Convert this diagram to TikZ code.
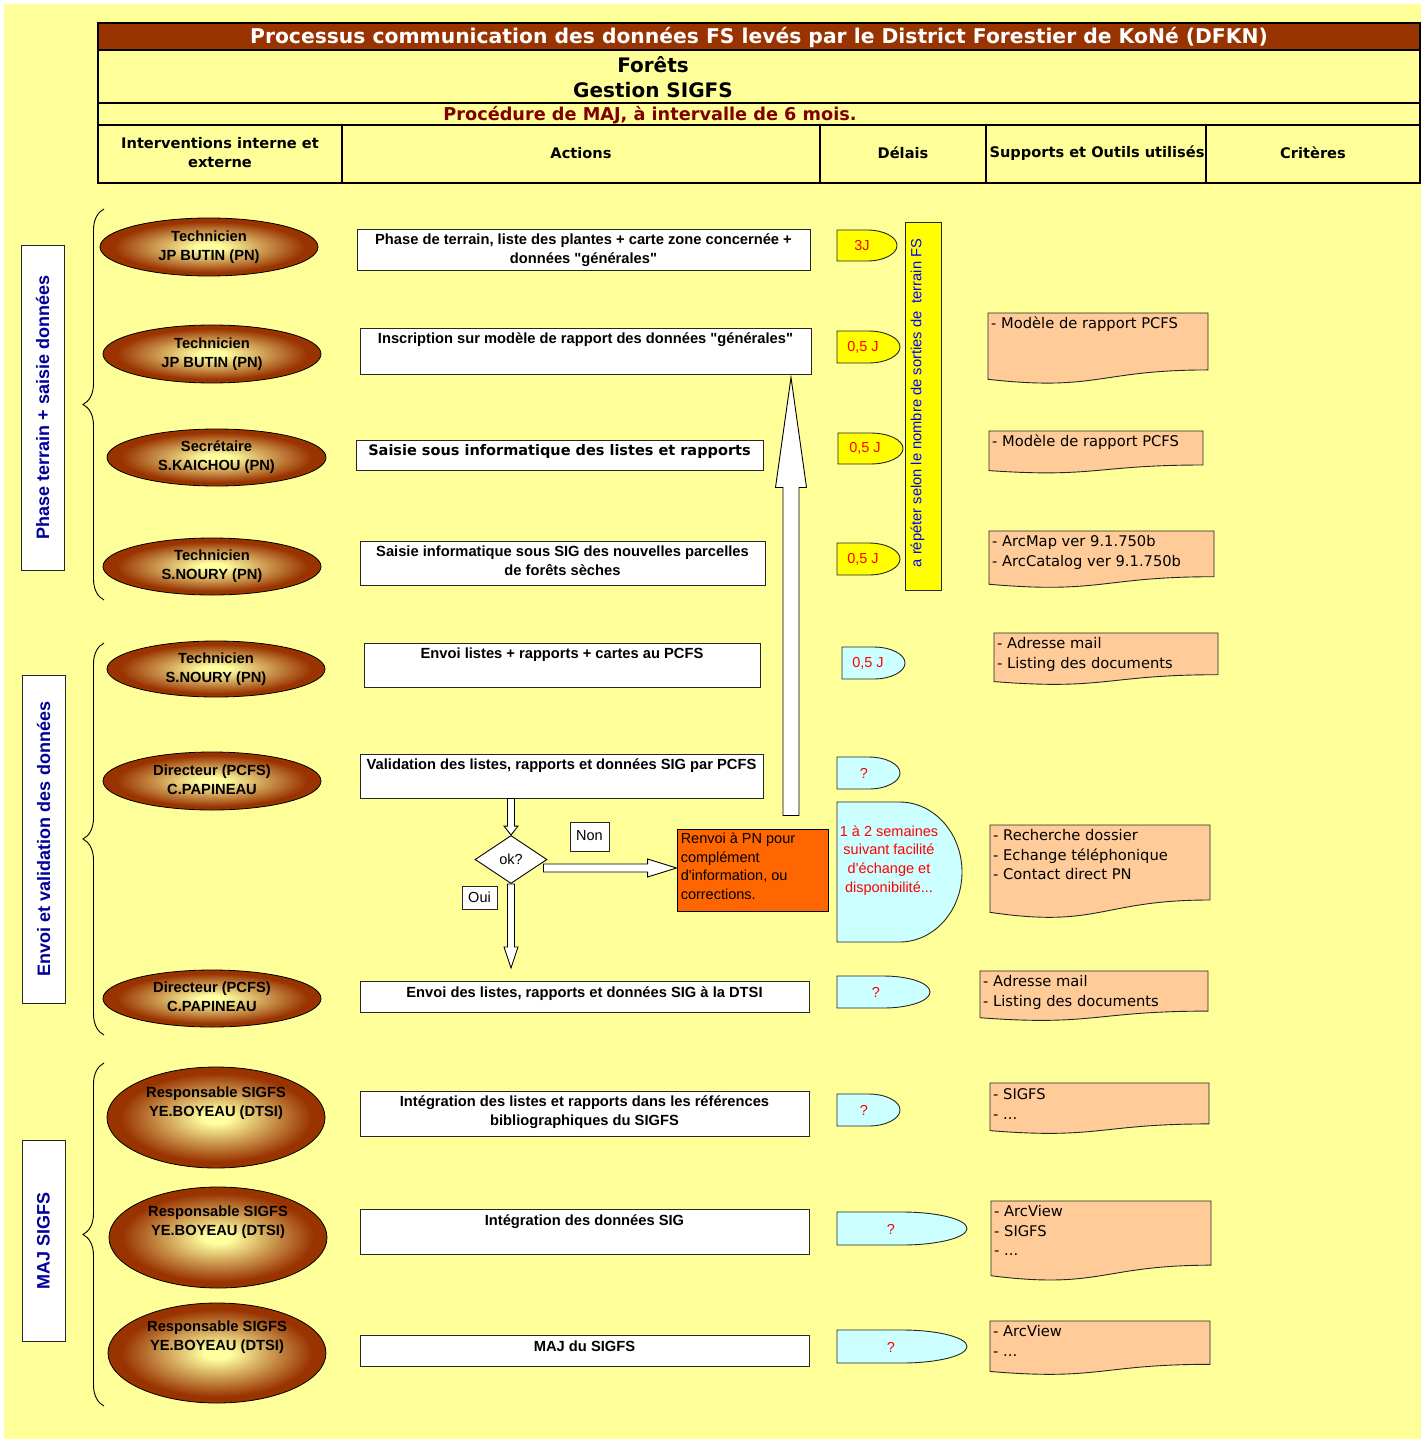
\documentclass[tikz,border=0pt]{standalone}
\usepackage{fontspec}
\setmainfont{Liberation Sans}[Ligatures=TeXOff]
\newfontfamily\verd{DejaVu Sans}[Ligatures=TeXOff]
\usetikzlibrary{shapes.geometric,calc,decorations.pathreplacing}

\definecolor{bgyellow}{HTML}{FFFF99}
\definecolor{titlebrown}{HTML}{993300}
\definecolor{procred}{HTML}{800000}
\definecolor{delayyellow}{HTML}{FFFF00}
\definecolor{delaycyan}{HTML}{CCFFFF}
\definecolor{docpeach}{HTML}{FFCC99}
\definecolor{renvoiorange}{HTML}{FF6600}
\definecolor{sidenavy}{HTML}{000099}
\definecolor{barblue}{HTML}{0000FF}
\definecolor{elllight}{HTML}{FFFFA0}
\definecolor{ellbrown}{HTML}{993300}

\pgfdeclareradialshading{ellshade}{\pgfpoint{0bp}{0bp}}{%
  color(0bp)=(elllight); color(3bp)=(elllight); color(22bp)=(ellbrown); color(50bp)=(ellbrown)}

\newcommand\fs[2]{\fontsize{#1}{#2}\selectfont}
\newcommand\sq{\symbol{39}}
\newcommand\dq{\symbol{34}}

% delay shape: flat left half, half ellipse on the right half
\newcommand\delaybox[6]{%
  \pgfmathsetmacro\dlXm{(#2+#4)/2}%
  \pgfmathsetmacro\dlYm{(#3+#5)/2}%
  \pgfmathsetmacro\dlCx{\dlXm+0.5523*(#4-#2)/2}%
  \pgfmathsetmacro\dlCy{0.5523*(#5-#3)/2}%
  \draw[shapeline, fill=#6] (#2,#3) -- (\dlXm,#3)
    .. controls (\dlCx,#3) and (#4,\dlYm-\dlCy) .. (#4,\dlYm)
    .. controls (#4,\dlYm+\dlCy) and (\dlCx,#5) .. (\dlXm,#5) -- (#2,#5) -- cycle;
  \coordinate (#1) at (#2,\dlYm);
}

% document shape: rectangle with a wavy bottom edge
\newcommand\docbox[5]{%
  \pgfmathsetmacro\dcXm{(#2+#4)/2}%
  \draw[shapeline, fill=docpeach] (#2,#3) -- (#4,#3) -- (#4,#3+0.802*#5)
    .. controls (\dcXm,#3+0.802*#5) and (\dcXm,#3+1.1075*#5) .. (#2,#3+0.934*#5) -- cycle;
  \coordinate (#1) at (#2,#3);
}

% block arrow from a tail point to a tip point
\newcommand\blockarrow[5]{%
  \coordinate (bah) at ($(#2)!#5!(#1)$);
  \draw[blockarr] ($(#1)!#3!90:(#2)$) -- ($(bah)!#3!-90:(#1)$) -- ($(bah)!#4!-90:(#1)$)
    -- (#2) -- ($(bah)!#4!90:(#1)$) -- ($(bah)!#3!90:(#1)$) -- ($(#1)!#3!-90:(#2)$) -- cycle;
}

\tikzset{
  shapeline/.style={draw=black!85, line width=0.9pt},
  blockarr/.style={draw=black, line width=0.9pt, fill=white},
  hdrline/.style={line width=2.6pt, draw=black},
  ell/.style={ellipse, draw=black, line width=0.8pt, shade, shading=ellshade,
    minimum width=218pt, minimum height=58pt, inner sep=0pt, align=center,
    font=\bfseries\fs{14.7}{19}},
  bigell/.style={ell, minimum height=101pt},
  actbox/.style={rectangle, draw=black!85, line width=0.9pt, fill=white, inner sep=0pt},
  acttext/.style={anchor=north, inner sep=0pt, align=center, font=\bfseries\fs{14.7}{19}},
  sidebox/.style={rectangle, draw=black!85, line width=0.9pt, fill=white, inner sep=0pt},
  sidetext/.style={rotate=90, inner sep=0pt, text=sidenavy, font=\bfseries\fs{18}{22}},
  delaytext/.style={inner sep=0pt, text=red, font=\fs{14.5}{18.7}},
  doctext/.style={anchor=north west, inner sep=0pt, align=left, font=\verd\fs{14.7}{19.5}},
  hdrtext/.style={inner sep=0pt, align=center, font=\verd\bfseries\fs{14.6}{19}},
  tagbox/.style={rectangle, draw=black!85, line width=0.8pt, fill=white, inner sep=0pt,
    font=\fs{14.5}{17}},
  bracestyle/.style={decorate, decoration={brace, amplitude=21pt, aspect=0.5}, line width=0.9pt},
}

\begin{document}
\begin{tikzpicture}[x=1pt, y=-1pt]
\useasboundingbox (0,0) rectangle (1427,1439);
\fill[white] (0,0) rectangle (1427,1439);
\fill[bgyellow] (4,4) rectangle (1421,1439);

% ---------- header table ----------
\fill[titlebrown] (98,23) rectangle (1420,50);
\draw[hdrline] (98,23) rectangle (1420,183);
\draw[hdrline] (98,50) -- (1420,50);
\draw[hdrline] (98,103) -- (1420,103);
\draw[hdrline] (98,125) -- (1420,125);
\foreach \cx in {342,820,986,1206} \draw[hdrline] (\cx,125) -- (\cx,183);
\node[inner sep=0pt, text=white, font=\verd\bfseries\fs{20.3}{24}] (title) at (759,37) {Processus communication des donn\'ees FS lev\'es par le District Forestier de KoN\'e (DFKN)};
\node[inner sep=0pt, align=center, font=\verd\bfseries\fs{20}{25}] (subtitle) at (653,77) {For\^ets\\Gestion SIGFS};
\node[inner sep=0pt, text=procred, font=\verd\bfseries\fs{17.7}{20}] (proc) at (650,115) {Proc\'edure de MAJ, \`a intervalle de 6 mois.};
\node[hdrtext] (h1) at (220,153) {Interventions interne et\\externe};
\node[hdrtext] (h2) at (581,153) {Actions};
\node[hdrtext] (h3) at (903,153) {D\'elais};
\node[hdrtext] (h4) at (1097,153) {Supports et Outils utilis\'es};
\node[hdrtext] (h5) at (1313,153) {Crit\`eres};

% ---------- phase labels and braces ----------
\node[sidebox, minimum width=43pt, minimum height=325pt] (side1) at (42.5,407.5) {};
\node[sidetext] (side1t) at (side1.center) {Phase terrain + saisie donn\'ees};
\node[sidebox, minimum width=43pt, minimum height=328pt] (side2) at (43.5,839) {};
\node[sidetext] (side2t) at (side2.center) {Envoi et validation des donn\'ees};
\node[sidebox, minimum width=43pt, minimum height=201pt] (side3) at (43.5,1240.5) {};
\node[sidetext] (side3t) at (side3.center) {MAJ SIGFS};

\coordinate (br1a) at (104,600); \coordinate (br1b) at (104,209);
\coordinate (br2a) at (104,1035); \coordinate (br2b) at (104,643);
\coordinate (br3a) at (104,1406); \coordinate (br3b) at (104,1063);
\draw[bracestyle] (br1a) -- (br1b);
\draw[bracestyle] (br2a) -- (br2b);
\draw[bracestyle] (br3a) -- (br3b);

% ---------- actors ----------
\node[ell] (e1) at (209,247) {\strut Technicien\\\strut JP BUTIN (PN)};
\node[ell] (e2) at (212,354) {\strut Technicien\\\strut JP BUTIN (PN)};
\node[ell, minimum width=219pt, minimum height=57pt] (e3) at (216.5,457.5) {\strut Secr\'etaire\\\strut S.KAICHOU (PN)};
\node[ell, minimum height=57pt] (e4) at (212,566.5) {\strut Technicien\\\strut S.NOURY (PN)};
\node[ell, minimum height=56pt] (e5) at (216,669) {\strut Technicien\\\strut S.NOURY (PN)};
\node[ell] (e6) at (212,781) {\strut Directeur (PCFS)\\\strut C.PAPINEAU};
\node[ell, minimum height=57pt] (e7) at (212,998.5) {\strut Directeur (PCFS)\\\strut C.PAPINEAU};
\node[bigell] (e8) at (216,1117.5) {};
\node[bigell] (e9) at (218,1237.5) {};
\node[bigell, minimum height=100pt] (e10) at (217,1353) {};
\node[inner sep=0pt, align=center, font=\bfseries\fs{14.7}{19}] (e8t) at ($(e8.center)+(0,-14)$) {\strut Responsable SIGFS\\\strut YE.BOYEAU (DTSI)};
\node[inner sep=0pt, align=center, font=\bfseries\fs{14.7}{19}] (e9t) at ($(e9.center)+(0,-15)$) {\strut Responsable SIGFS\\\strut YE.BOYEAU (DTSI)};
\node[inner sep=0pt, align=center, font=\bfseries\fs{14.7}{19}] (e10t) at ($(e10.center)+(0,-16)$) {\strut Responsable SIGFS\\\strut YE.BOYEAU (DTSI)};

% ---------- actions ----------
\node[actbox, minimum width=453pt, minimum height=41pt] (a1) at (583.5,249.5) {};
\node[acttext] (a1t) at ($(a1.north)+(0,2.5)$) {\strut Phase de terrain, liste des plantes + carte zone concern\'ee +\\donn\'ees \dq g\'en\'erales\dq};
\node[actbox, minimum width=451pt, minimum height=46pt] (a2) at (585.5,351) {};
\node[acttext] (a2t) at ($(a2.north)+(0,2.5)$) {\strut Inscription sur mod\`ele de rapport des donn\'ees \dq g\'en\'erales\dq};
\node[actbox, minimum width=407pt, minimum height=30pt] (a3) at (559.5,455) {};
\node[acttext, font=\verd\bfseries\fs{14.5}{19}] (a3t) at ($(a3.north)+(0,2)$) {\strut Saisie sous informatique des listes et rapports};
\node[actbox, minimum width=405pt, minimum height=44pt] (a4) at (562.5,563) {};
\node[acttext] (a4t) at ($(a4.north)+(0,2)$) {\strut Saisie informatique sous SIG des nouvelles parcelles\\de for\^ets s\`eches};
\node[actbox, minimum width=396pt, minimum height=44pt] (a5) at (562,665) {};
\node[acttext] (a5t) at ($(a5.north)+(0,2.5)$) {\strut Envoi listes + rapports + cartes au PCFS};
\node[actbox, minimum width=403pt, minimum height=44pt] (a6) at (561.5,776) {};
\node[acttext] (a6t) at ($(a6.north)+(0,2.5)$) {\strut Validation des listes, rapports et donn\'ees SIG par PCFS};
\node[actbox, minimum width=449pt, minimum height=31pt] (a7) at (584.5,996.5) {};
\node[acttext] (a7t) at ($(a7.north)+(0,3)$) {\strut Envoi des listes, rapports et donn\'ees SIG \`a la DTSI};
\node[actbox, minimum width=449pt, minimum height=45pt] (a8) at (584.5,1113.5) {};
\node[acttext] (a8t) at ($(a8.north)+(0,2)$) {\strut Int\'egration des listes et rapports dans les r\'ef\'erences\\bibliographiques du SIGFS};
\node[actbox, minimum width=449pt, minimum height=45pt] (a9) at (584.5,1231.5) {};
\node[acttext] (a9t) at ($(a9.north)+(0,3)$) {\strut Int\'egration des donn\'ees SIG};
\node[actbox, minimum width=449pt, minimum height=31pt] (a10) at (584.5,1350.5) {};
\node[acttext] (a10t) at ($(a10.north)+(0,3)$) {\strut MAJ du SIGFS};

% ---------- decision and return loop ----------
\node[diamond, draw=black, line width=0.9pt, fill=white, minimum width=72pt, minimum height=48pt,
  inner sep=0pt, font=\fs{14.5}{17}] (ok) at (511,859.5) {ok?};
\node[tagbox, minimum width=39pt, minimum height=29pt] (non) at (589.5,836.5) {\raisebox{2pt}{Non}};
\node[tagbox, minimum width=35pt, minimum height=23pt] (oui) at (479.5,897.5) {\raisebox{1pt}{Oui}};
\node[rectangle, draw=black, line width=0.9pt, fill=renvoiorange, minimum width=151pt,
  minimum height=82pt, inner sep=0pt] (renvoi) at (752.5,870) {};
\node[anchor=north west, inner sep=0pt, align=left, font=\fs{14.5}{18.5}] (renvoit) at ($(renvoi.north west)+(4,2)$)
  {\strut Renvoi \`a PN pour\\compl\'ement\\d\sq information, ou\\corrections.};

\coordinate (vTail) at (a6.south -| ok.north);
\coordinate (okIn) at (ok.north);
\coordinate (okRight) at ($(ok.east)+(-4,8.5)$);
\coordinate (renvoiIn) at (renvoi.west |- okRight);
\coordinate (okBottom) at (ok.south);
\coordinate (ouiEnd) at (511,968);
\coordinate (upTail) at (791,815.5);
\coordinate (upTip) at ($(a2.south -| upTail)+(0,3)$);

\blockarrow{vTail}{okIn}{3.5pt}{7pt}{9pt}
\blockarrow{okRight}{renvoiIn}{4pt}{9pt}{29pt}
\blockarrow{okBottom}{ouiEnd}{3.5pt}{7pt}{21pt}
\blockarrow{upTail}{upTip}{8pt}{15.5pt}{110pt}

% ---------- delays ----------
\delaybox{d1}{837}{230}{897}{261}{delayyellow}
\delaybox{d2}{837}{331}{900}{363}{delayyellow}
\delaybox{d3}{838}{433}{903}{464}{delayyellow}
\delaybox{d4}{837}{543}{900}{575}{delayyellow}
\delaybox{d5}{842}{647}{905}{679}{delaycyan}
\delaybox{d6}{837}{757}{900}{789}{delaycyan}
\delaybox{d7}{837}{802}{962}{942}{delaycyan}
\delaybox{d8}{837}{976}{930}{1008}{delaycyan}
\delaybox{d9}{837}{1094}{900}{1126}{delaycyan}
\delaybox{d10}{837}{1212}{967}{1245}{delaycyan}
\delaybox{d11}{837}{1330}{967}{1363}{delaycyan}
\node[delaytext] (d1t) at (862,245.5) {3J};
\node[delaytext] (d2t) at (863,347) {0,5 J};
\node[delaytext] (d3t) at (865,448.5) {0,5 J};
\node[delaytext] (d4t) at (863,559) {0,5 J};
\node[delaytext] (d5t) at (868,663) {0,5 J};
\node[delaytext] (d6t) at (864,773) {?};
\node[delaytext, align=center, anchor=north] (d7t) at (889,823) {\strut 1 \`a 2 semaines\\suivant facilit\'e\\d\sq\'echange et\\disponibilit\'e...};
\node[delaytext] (d8t) at (876,992) {?};
\node[delaytext] (d9t) at (864,1110) {?};
\node[delaytext] (d10t) at (891,1229) {?};
\node[delaytext] (d11t) at (891,1347) {?};

% repeat bar
\node[rectangle, draw=black!85, line width=0.9pt, fill=delayyellow, minimum width=36pt,
  minimum height=368pt, inner sep=0pt] (bar) at (923,406) {};
\node[rotate=90, inner sep=0pt, text=barblue, font=\fs{14.7}{17}] (bart) at (917.5,403)
  {a r\'ep\'eter selon le nombre de sorties de\ \ terrain FS};

% ---------- supports ----------
\docbox{s1}{988}{313}{1208}{71}
\node[doctext] (s1t) at ($(s1)+(3,2)$) {\strut - Mod\`ele de rapport PCFS};
\docbox{s2}{989}{431}{1203}{42.4}
\node[doctext] (s2t) at ($(s2)+(3,2)$) {\strut - Mod\`ele de rapport PCFS};
\docbox{s3}{989}{531}{1214}{57}
\node[doctext] (s3t) at ($(s3)+(3,2)$) {\strut - ArcMap ver 9.1.750b\\- ArcCatalog ver 9.1.750b};
\docbox{s4}{994}{633}{1218}{52}
\node[doctext] (s4t) at ($(s4)+(3,2)$) {\strut - Adresse mail\\- Listing des documents};
\docbox{s5}{990}{825}{1210}{93.5}
\node[doctext] (s5t) at ($(s5)+(3,2)$) {\strut - Recherche dossier\\- Echange t\'el\'ephonique\\- Contact direct PN};
\docbox{s6}{980}{971}{1208}{50}
\node[doctext] (s6t) at ($(s6)+(3,2)$) {\strut - Adresse mail\\- Listing des documents};
\docbox{s7}{990}{1083}{1209}{51}
\node[doctext] (s7t) at ($(s7)+(3,3)$) {\strut - SIGFS\\- ...};
\docbox{s8}{991}{1201}{1211}{80}
\node[doctext] (s8t) at ($(s8)+(3,2)$) {\strut - ArcView\\- SIGFS\\- ...};
\docbox{s9}{990}{1321}{1210}{54}
\node[doctext] (s9t) at ($(s9)+(3,2)$) {\strut - ArcView\\- ...};
\end{tikzpicture}
\end{document}
